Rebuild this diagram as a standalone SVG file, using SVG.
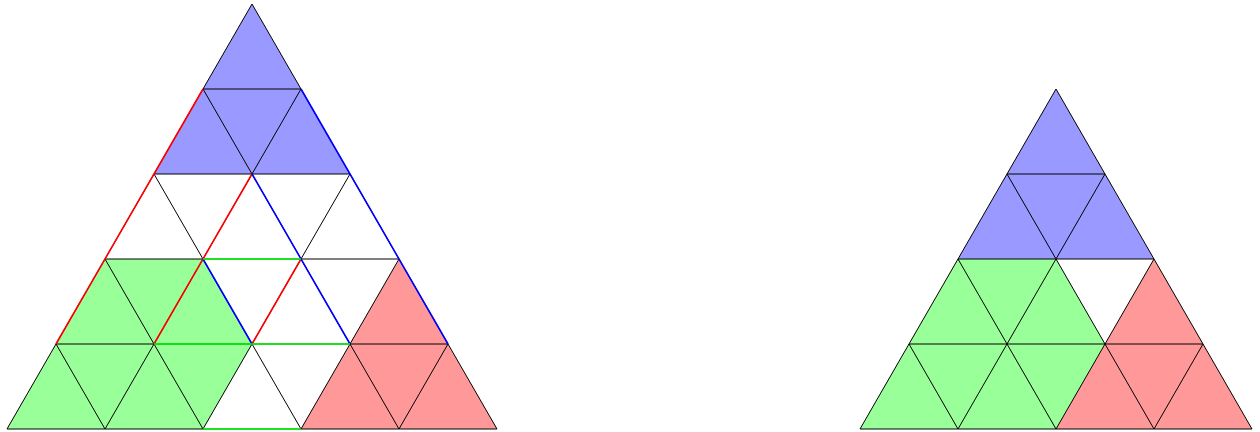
<svg xmlns="http://www.w3.org/2000/svg" width="1260" height="432" viewBox="0 0 1260 432">
<style>
.blue{fill:#9999ff;stroke:none}
.green{fill:#99ff99;stroke:none}
.red{fill:#ff9999;stroke:none}
.grid{fill:none;stroke:#000;stroke-width:1}
.lr{stroke:#ff0000;stroke-width:1.6;fill:none}
.lb{stroke:#0000ff;stroke-width:1.6;fill:none}
.lg{stroke:#00ff00;stroke-width:1.6;fill:none}
</style>
<rect width="1260" height="432" fill="#fff"/>
<g id="left-triangle">
  <g id="left-blue"><polygon class="blue" points="252,4 350,174 154,174"/></g>
  <g id="left-green"><polygon class="green" points="105,259 203,259 252,344 203,429 7,429"/></g>
  <g id="left-red"><polygon class="red" points="399,259 497,429 301,429"/></g>
  <path class="grid" d="M203,89H301M154,174H350M105,259H399M56,344H448M7,429H497
    M252,4L7,429M301,89L105,429M350,174L203,429M399,259L301,429M448,344L399,429
    M252,4L497,429M203,89L399,429M154,174L301,429M105,259L203,429M56,344L105,429"/>
</g>
<g id="connectors">
  <path class="lr" d="M203,89L56,344M252,174L154,344M301,259L252,344"/>
  <path class="lb" d="M301,89L448,344M252,174L350,344M203,259L252,344"/>
  <path class="lg" d="M203,259H301M154,344H350M203,429H301"/>
</g>
<g id="right-triangle">
  <g id="right-blue"><polygon class="blue" points="1056,89 1154,259 958,259"/></g>
  <g id="right-green"><polygon class="green" points="958,259 1056,259 1105,344 1056,429 860,429"/></g>
  <g id="right-red"><polygon class="red" points="1154,259 1252,429 1056,429"/></g>
  <path class="grid" d="M1007,174H1105M958,259H1154M909,344H1203M860,429H1252
    M1056,89L860,429M1105,174L958,429M1154,259L1056,429M1203,344L1154,429
    M1056,89L1252,429M1007,174L1154,429M958,259L1056,429M909,344L958,429"/>
</g>
</svg>
